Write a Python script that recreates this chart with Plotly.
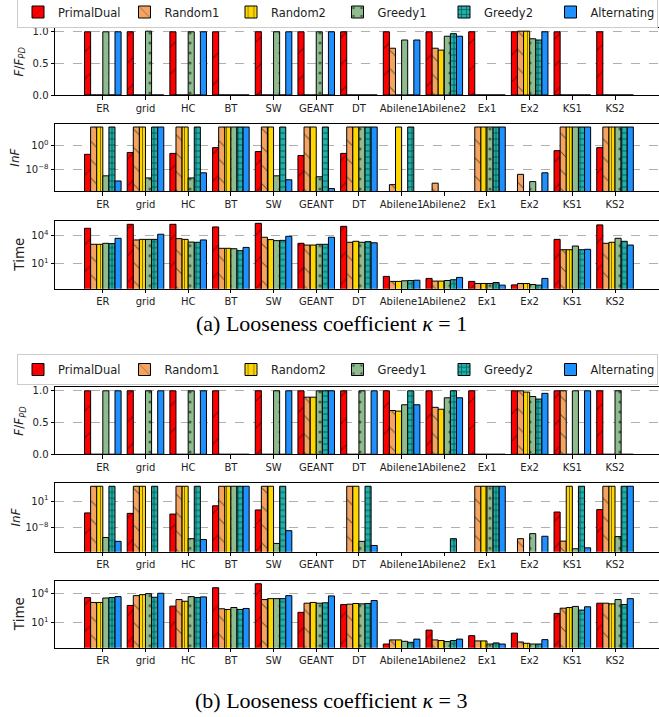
import plotly.graph_objects as go

# ---------------- data ----------------
categories = ["ER", "grid", "HC", "BT", "SW", "GEANT", "DT",
              "Abilene1", "Abilene2", "Ex1", "Ex2", "KS1", "KS2"]
algorithms = ["PrimalDual", "Random1", "Random2", "Greedy1", "Greedy2", "Alternating"]

# (a) kappa = 1 : F / F_PD
k1_ratio_pd  = [1, 1, 1, 1, 1, 1, 1, 1, 1, 1, 1, 1, 1]
k1_ratio_r1  = [0, 0, 0, 0, 0, 0, 0, 0.74, 0.74, 0, 1.01, 0, 0]
k1_ratio_r2  = [0, 0, 0, 0, 0, 0, 0, 0, 0.71, 0, 1.01, 0, 0]
k1_ratio_g1  = [1, 1.01, 1, 0, 1, 1, 0, 0.87, 0.93, 0, 0.89, 0, 0]
k1_ratio_g2  = [0, 0, 0, 0, 0, 0, 0, 0, 0.97, 0, 0.87, 0, 0]
k1_ratio_alt = [1, 0, 1, 0, 1, 1, 0, 0.87, 0.93, 0, 1.0, 0, 0]

# (a) kappa = 1 : InF (None = nothing drawn)
k1_inf_pd  = [1e-3, 4e-3, 2e-3, 1.6e-1, 8e-3, 4e-4, 2e-3, None, None, None, None, 1.6e-2, 1.6e-1]
k1_inf_r1  = [1e6, 1e6, 1e6, 1e6, 1e6, 1e6, 1e6, 1e-13, 3e-13, 1e6, 2.5e-10, 1e6, 1e6]
k1_inf_r2  = [1e6, 1e6, 1e6, 1e6, 1e6, 1e6, 1e6, 1e6, None, 1e6, None, 1e6, 1e6]
k1_inf_g1  = [8e-11, 1.6e-11, 1.6e-11, 1e6, 8e-11, 4e-11, 1e6, None, None, 1e6, 1e-12, 1e6, 1e6]
k1_inf_g2  = [1e6, 1e6, 1e6, 1e6, 1e6, 1e6, 1e6, 1e6, None, 1e6, None, 1e6, 1e6]
k1_inf_alt = [1.6e-12, 1e6, 8e-10, 1e6, 4e-12, 5e-15, 1e6, None, None, 1e6, 8e-10, 1e6, 1e6]

# (a) kappa = 1 : Time
k1_time_pd  = [5.6e4, 1.5e5, 1.5e5, 7.8e4, 1.9e5, 1.4e3, 9.1e4, 0.41, 0.25, 0.12, 0.051, 3.7e3, 1.3e5]
k1_time_r1  = [1.1e3, 3.2e3, 4.4e3, 4.1e2, 6.2e3, 9.1e2, 1.8e3, 0.12, 0.13, 0.072, 0.072, 2.9e2, 1.4e3]
k1_time_r2  = [1.1e3, 3.7e3, 3.7e3, 4.1e2, 3.5e3, 9.1e2, 2.3e3, 0.12, 0.13, 0.072, 0.072, 2.9e2, 1.8e3]
k1_time_g1  = [1.4e3, 3.7e3, 1.9e3, 3.7e2, 2.7e3, 1.1e3, 1.8e3, 0.14, 0.15, 0.072, 0.056, 7.2e2, 4.8e3]
k1_time_g2  = [1.3e3, 3.7e3, 1.8e3, 2.3e2, 2.9e3, 1.1e3, 2.1e3, 0.15, 0.18, 0.091, 0.048, 2.9e2, 2.3e3]
k1_time_alt = [4.8e3, 1.3e4, 3.2e3, 5.1e2, 7.8e3, 6.2e3, 1.6e3, 0.16, 0.32, 0.048, 0.25, 3.2e2, 9.1e2]

# (b) kappa = 3 : F / F_PD
k3_ratio_pd  = [1, 1, 1, 1, 1, 1, 1, 1, 1, 1, 1, 1, 1]
k3_ratio_r1  = [0, 0, 0, 0, 0, 0.90, 0, 0.69, 0.74, 0, 1.0, 1.0, 0]
k3_ratio_r2  = [0, 0, 0, 0, 0, 0.90, 0, 0.68, 0.71, 0, 0.98, 0, 0]
k3_ratio_g1  = [1, 1, 1, 0, 1, 1.0, 1, 0.78, 0.89, 0, 0.91, 1.0, 1.0]
k3_ratio_g2  = [0, 0, 0, 0, 0, 1.0, 0, 1.0, 1.0, 0, 0.87, 0, 0]
k3_ratio_alt = [1, 1, 1, 0, 1, 1.0, 1, 0.78, 0.89, 0, 0.96, 1.0, 0]

# (b) kappa = 3 : InF
k3_inf_pd  = [1e-3, 7e-4, 4e-4, 2.5e-1, 1e-2, None, None, None, None, None, None, 2e-3, 1.3e-2]
k3_inf_r1  = [1e6, 1e6, 1e6, 1e6, 1e6, None, 1e6, None, None, 1e6, 2e-12, 3e-13, 1e6]
k3_inf_r2  = [1e6, 1e6, 1e6, 1e6, 1e6, None, 1e6, None, None, 1e6, None, 1e6, 1e6]
k3_inf_g1  = [5e-12, None, 2e-12, 1e6, 5e-14, None, 2.5e-13, None, None, 1e6, 1e-10, 8e-16, 1e-11]
k3_inf_g2  = [1e6, 1e6, 1e6, 1e6, 1e6, None, 1e6, None, 2e-12, 1e6, None, 1e6, 1e6]
k3_inf_alt = [2.5e-13, None, 1e-12, 1e6, 1e-9, None, 1e-14, None, None, 1e6, 1.3e-11, 1.6e-15, 1e6]

# (b) kappa = 3 : Time
k3_time_pd  = [3.9e3, 5.8e2, 4.9e2, 4.2e4, 1.1e5, 1.1e2, 7.2e2, 0.052, 1.5, 0.39, 0.72, 85, 1.0e3]
k3_time_r1  = [1.2e3, 6.2e3, 2.4e3, 2.6e2, 2.4e3, 1.0e3, 7.9e2, 0.14, 0.14, 0.11, 0.085, 3.0e2, 1.0e3]
k3_time_r2  = [1.2e3, 7.9e3, 1.6e3, 2.2e2, 3.0e3, 1.2e3, 9.3e2, 0.14, 0.12, 0.11, 0.062, 3.5e2, 8.5e2]
k3_time_g1  = [3.5e3, 1.0e4, 4.9e3, 3.5e2, 3.0e3, 1.0e3, 8.5e2, 0.10, 0.093, 0.052, 0.052, 4.6e2, 2.4e3]
k3_time_g2  = [3.9e3, 4.2e3, 3.9e3, 2.2e2, 3.0e3, 1.1e3, 9.3e2, 0.079, 0.12, 0.068, 0.052, 1.9e2, 7.2e2]
k3_time_alt = [4.9e3, 1.1e4, 4.6e3, 2.8e2, 6.2e3, 5.8e3, 1.9e3, 0.17, 0.17, 0.052, 0.15, 4.2e2, 3.0e3]

y_titles = ["<i>F</i>/<i>F</i><sub><i>PD</i></sub>", "<i>InF</i>", "Time"]
captions = ["(a) Looseness coefficient <i>κ</i> = 1", "(b) Looseness coefficient <i>κ</i> = 3"]

# ---------------- styles ----------------
colors = ["#ff0000", "#f4a460", "#ffd700", "#8fbc8f", "#20b2aa", "#1e90ff"]
patterns = [
    dict(shape="/", size=19, solidity=1 / 19, fgcolor="black"),
    dict(shape="\\", size=13, solidity=1 / 13, fgcolor="black"),
    dict(shape="|", size=7, solidity=1 / 7, fgcolor="black"),
    dict(shape=".", size=10, solidity=0.08, fgcolor="black"),
    dict(shape="+", size=6, solidity=0.3, fgcolor="black"),
    dict(shape=""),
]

W, H = 659, 717
AX_LEFT = 55


def py(p):
    return 1 - p / H


def pxx(p):
    return p / W


panels = [
    dict(data=[k1_ratio_pd, k1_ratio_r1, k1_ratio_r2, k1_ratio_g1, k1_ratio_g2, k1_ratio_alt],
         kind="ratio", rng=[0, 1.06], pix=(28, 95), legend="legend"),
    dict(data=[k1_inf_pd, k1_inf_r1, k1_inf_r2, k1_inf_g1, k1_inf_g2, k1_inf_alt],
         kind="inf", rng=[-15.2, 7.0], pix=(124, 191.3), legend="legend"),
    dict(data=[k1_time_pd, k1_time_r1, k1_time_r2, k1_time_g1, k1_time_g2, k1_time_alt],
         kind="time", rng=[-1.7, 5.56], pix=(220.7, 288.7), legend="legend"),
    dict(data=[k3_ratio_pd, k3_ratio_r1, k3_ratio_r2, k3_ratio_g1, k3_ratio_g2, k3_ratio_alt],
         kind="ratio", rng=[0, 1.06], pix=(387, 454.3), legend="legend2"),
    dict(data=[k3_inf_pd, k3_inf_r1, k3_inf_r2, k3_inf_g1, k3_inf_g2, k3_inf_alt],
         kind="inf", rng=[-16.1, 7.0], pix=(483.3, 551.7), legend="legend2"),
    dict(data=[k3_time_pd, k3_time_r1, k3_time_r2, k3_time_g1, k3_time_g2, k3_time_alt],
         kind="time", rng=[-1.67, 5.36], pix=(580.7, 647.7), legend="legend2"),
]

fig = go.Figure()
layout = {}
annotations = []
for i, p in enumerate(panels):
    n = i + 1
    xa, ya = ("x" if n == 1 else f"x{n}"), ("y" if n == 1 else f"y{n}")
    for j, name in enumerate(algorithms):
        fig.add_trace(go.Bar(
            x=categories, y=p["data"][j], name=name,
            xaxis=xa, yaxis=ya,
            marker=dict(color=colors[j], line=dict(color="black", width=1),
                        pattern=patterns[j]),
            legend=p["legend"], showlegend=(p["kind"] == "ratio"),
            hoverinfo="skip",
        ))
    ax_common = dict(showline=True, linecolor="black", linewidth=1,
                     ticks="outside", ticklen=3.5, tickwidth=0.8, tickcolor="black",
                     tickfont=dict(size=10, color="#222222"))
    layout[f"xaxis{n}"] = dict(domain=[AX_LEFT / W, 1], anchor=ya, type="category",
                               range=[-1.12, 13.03], mirror=True, showgrid=False,
                               tickangle=0, **ax_common)
    ydict = dict(domain=[py(p["pix"][1]), py(p["pix"][0])], anchor=xa,
                 range=p["rng"], showgrid=True, gridcolor="#b0b0b0",
                 griddash="dash", gridwidth=0.8, zeroline=False, mirror=False,
                 **ax_common)
    if p["kind"] == "ratio":
        ydict.update(tickvals=[0, 0.5, 1.0], ticktext=["0.0", "0.5", "1.0"])
        title, tx, tsize = y_titles[0], 20, 12
    elif p["kind"] == "inf":
        ydict.update(type="log")
        if i == 1:
            ydict.update(tickvals=[1e0, 1e-8],
                         ticktext=["10<sup>0</sup>", "10<sup>−8</sup>"])
        else:
            ydict.update(tickvals=[1e1, 1e-8],
                         ticktext=["10<sup>1</sup>", "10<sup>−8</sup>"])
        title, tx, tsize = y_titles[1], 15, 12
    else:
        ydict.update(type="log", tickvals=[1e1, 1e4],
                     ticktext=["10<sup>1</sup>", "10<sup>4</sup>"])
        title, tx, tsize = y_titles[2], 19, 13.5
    layout[f"yaxis{n}"] = ydict
    annotations.append(dict(text=title, xref="paper", yref="paper",
                            x=pxx(tx), y=py((p["pix"][0] + p["pix"][1]) / 2),
                            xanchor="center", yanchor="middle", textangle=-90,
                            showarrow=False, font=dict(size=tsize, color="#222222")))

for k, cy in enumerate([323, 700]):
    annotations.append(dict(text=captions[k], xref="paper", yref="paper",
                            x=pxx(331), y=py(cy), xanchor="center", yanchor="middle",
                            showarrow=False,
                            font=dict(family="Liberation Serif", size=22, color="black")))

legend_common = dict(orientation="h", xanchor="left", yanchor="middle",
                     bordercolor="#cccccc", borderwidth=1, bgcolor="white",
                     font=dict(size=11.5, color="#222222"),
                     entrywidthmode="pixels", entrywidth=61.5, traceorder="normal")

fig.update_layout(
    width=W, height=H,
    margin=dict(l=0, r=0, t=0, b=0, autoexpand=False),
    paper_bgcolor="white", plot_bgcolor="white",
    font=dict(family="DejaVu Sans", size=10, color="#222222"),
    barmode="group", bargap=1 / 7, bargroupgap=0,
    legend=dict(x=pxx(17), y=py(12), **legend_common),
    legend2=dict(x=pxx(17), y=py(369.5), **legend_common),
    annotations=annotations,
    **layout,
)

fig.write_html("out.html",
               config={"displayModeBar": False},
               post_script="document.body.style.margin='0';document.body.style.overflow='hidden';")
